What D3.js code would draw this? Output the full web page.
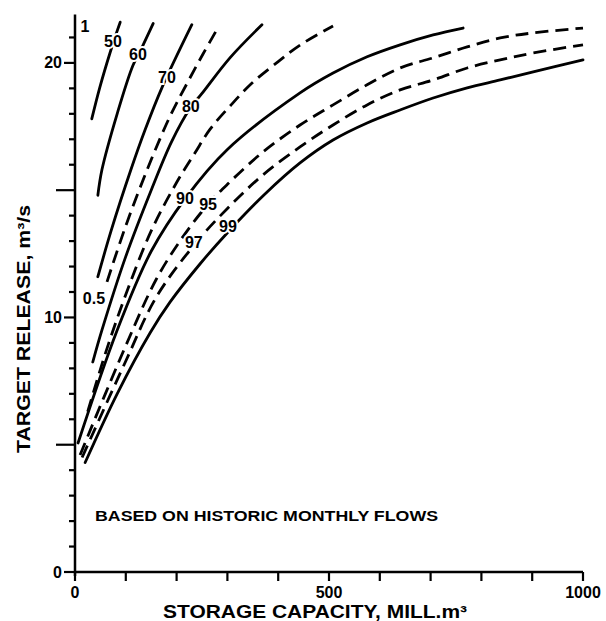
<!DOCTYPE html>
<html><head><meta charset="utf-8">
<script src="https://cdn.jsdelivr.net/npm/d3@7"></script>
<style>
html,body{margin:0;padding:0;background:#fff;}
svg text{font-family:"Liberation Sans",Arial,Helvetica,sans-serif;fill:#000;}
</style></head>
<body><svg id="c" width="606" height="621"></svg>
<script>
// ---- data (storage capacity, mill. m3 ; target release, m3/s) ----
const curve50 = [[33,17.8],[49,19.05],[69,20.4],[82,21.2],[89,21.6]];
const curve60 = [[45,14.8],[53,15.8],[83,18.0],[114,19.9],[134,20.7],[154,21.55]];
const curve70 = [[45,11.6],[71,13.4],[110,15.8],[138,17.37],[171,19.02],[230,21.5]];
const curve75 = [[63,11.4],[100,13.6],[144,15.9],[187,17.9],[222,19.25],[252,20.35],[282,21.4]];
const curve80 = [[35,8.25],[53,9.5],[100,12.4],[150,15.0],[190,16.9],[226,18.2],[250,18.8],[305,20.2],[368,21.5]];
const curve85 = [[25,6.3],[60,8.6],[100,10.9],[150,13.4],[200,15.3],[236,16.46],[266,17.4],[305,18.3],[348,19.2],[400,20.05],[443,20.7],[508,21.45]];
const curve90 = [[6,5.07],[83,9.5],[150,12.6],[218,14.7],[300,16.6],[443,18.82],[508,19.6],[575,20.24],[640,20.71],[705,21.1],[764,21.37]];
const curve95 = [[10,4.6],[98,8.8],[160,11.5],[210,13.1],[262,14.45],[301,15.25],[370,16.5],[443,17.56],[508,18.35],[575,19.14],[640,19.8],[705,20.2],[772,20.63],[837,20.98],[902,21.18],[1000,21.37]];
const curve97 = [[14,4.5],[98,8.2],[160,10.8],[238,12.93],[301,14.3],[370,15.6],[443,16.7],[508,17.56],[575,18.35],[640,18.94],[705,19.33],[772,19.8],[837,20.12],[902,20.39],[1000,20.71]];
const curve99 = [[20,4.3],[83,7.0],[148,9.4],[187,10.6],[246,12.1],[301,13.35],[374,14.85],[443,16.07],[508,16.97],[575,17.64],[640,18.15],[705,18.62],[772,19.02],[837,19.33],[902,19.65],[1000,20.12]];

const solidCurves  = [curve50, curve60, curve70, curve80, curve90, curve99];
const dashedCurves = [curve75, curve85, curve95, curve97];

const curveLabels = ["1","50","60","70","80","90","95","97","99","0.5"];
const curveLabelX = [19.7, 74.8, 124, 181, 228, 216.5, 262, 234, 301, 37.4];
const curveLabelY = [21.45, 20.86, 20.35, 19.41, 18.27, 14.66, 14.42, 12.93, 13.56, 10.73];

const xTickValues = [0,100,200,300,400,500,600,700,800,900,1000];
const xTickLabels = [0,500,1000];
const yTickValues = [1,2,3,4,6,7,8,9,11,12,13,14,16,17,18,19,21];
const yLabelTicks = [0,10,20];
const yLongTicks  = [5,15];

const xTitle = "STORAGE CAPACITY, MILL.m³";
const yTitle = "TARGET RELEASE, m³/s";
const note   = "BASED ON HISTORIC MONTHLY FLOWS";

// ---- drawing ----
const svg = d3.select("#c");
const x = d3.scaleLinear().domain([0,1000]).range([75,583]);
const y = d3.scaleLinear().domain([0,22]).range([572,12]);

const line = d3.line().x(d=>x(d[0])).y(d=>y(d[1])).curve(d3.curveCatmullRom.alpha(0.5));

const g = svg.append("g");
g.selectAll("path.solid").data(solidCurves).join("path")
  .attr("class","solid").attr("d",line)
  .attr("fill","none").attr("stroke","#000").attr("stroke-width",2.8).attr("stroke-linecap","round");
g.selectAll("path.dash").data(dashedCurves).join("path")
  .attr("class","dash").attr("d",line)
  .attr("fill","none").attr("stroke","#000").attr("stroke-width",2.8)
  .attr("stroke-dasharray","13,7").attr("stroke-linecap","butt");

// curve labels with white halo to break lines
svg.append("g").selectAll("text").data(curveLabels).join("text")
  .attr("x",(d,i)=>x(curveLabelX[i])).attr("y",(d,i)=>y(curveLabelY[i]))
  .attr("text-anchor","middle").attr("dominant-baseline","central")
  .attr("font-size",16).attr("font-weight","bold")
  .attr("stroke","#fff").attr("stroke-width",4).attr("paint-order","stroke")
  .text(d=>d);

// axes
const ax = svg.append("g").attr("stroke","#000");
ax.append("line").attr("x1",x(0)).attr("x2",x(1000)).attr("y1",y(0)).attr("y2",y(0)).attr("stroke-width",2.5);
ax.append("line").attr("x1",x(0)).attr("x2",x(0)).attr("y1",y(0)+4).attr("y2",y(21.9)).attr("stroke-width",2.5);

ax.selectAll("line.xt").data(xTickValues).join("line").attr("class","xt")
  .attr("x1",d=>x(d)).attr("x2",d=>x(d)).attr("y1",y(0)).attr("y2",y(0)+9).attr("stroke-width",2.2);
ax.selectAll("line.yt").data(yTickValues).join("line").attr("class","yt")
  .attr("x1",x(0)-6).attr("x2",x(0)).attr("y1",d=>y(d)).attr("y2",d=>y(d)).attr("stroke-width",2.2);
ax.selectAll("line.yl").data(yLabelTicks).join("line").attr("class","yl")
  .attr("x1",x(0)-11).attr("x2",x(0)).attr("y1",d=>y(d)).attr("y2",d=>y(d)).attr("stroke-width",2.2);
ax.selectAll("line.yL").data(yLongTicks).join("line").attr("class","yL")
  .attr("x1",x(0)-19).attr("x2",x(0)).attr("y1",d=>y(d)).attr("y2",d=>y(d)).attr("stroke-width",2.2);

svg.append("g").selectAll("text").data(xTickLabels).join("text")
  .attr("x",d=>x(d)).attr("y",y(0)+26).attr("text-anchor","middle")
  .attr("font-size",16).attr("font-weight","bold").text(d=>d);
svg.append("g").selectAll("text").data(yLabelTicks).join("text")
  .attr("x",x(0)-13).attr("y",d=>y(d)).attr("text-anchor","end").attr("dominant-baseline","central")
  .attr("font-size",16).attr("font-weight","bold").text(d=>d);

// titles
svg.append("text").attr("x",163).attr("y",618).attr("textLength",304).attr("lengthAdjust","spacingAndGlyphs")
  .attr("font-size",18).attr("font-weight","bold").text(xTitle);
svg.append("text").attr("transform","translate(30,453) rotate(-90)").attr("textLength",248).attr("lengthAdjust","spacingAndGlyphs")
  .attr("font-size",18).attr("font-weight","bold").text(yTitle);
svg.append("text").attr("x",95).attr("y",521).attr("textLength",343).attr("lengthAdjust","spacingAndGlyphs")
  .attr("font-size",14).attr("font-weight","bold").text(note);
</script></body></html>
